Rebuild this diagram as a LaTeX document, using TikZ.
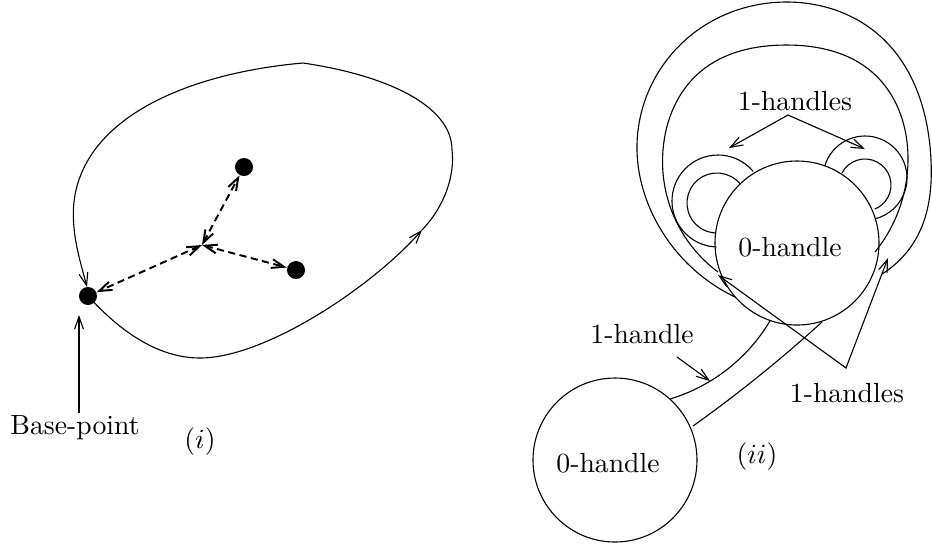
\documentclass[tikz,border=0pt]{standalone}
\usetikzlibrary{arrows.meta,hobby}
\begin{document}
\begin{tikzpicture}[x=0.361pt, y=-0.361pt,
  dot/.style={circle, fill, inner sep=0pt, minimum size=6.5pt},
  tip/.style={-{Straight Barb[length=4.5pt,width=3.2pt]}},
  twotips/.style={{Straight Barb[length=4.5pt,width=3.2pt]}-{Straight Barb[length=4.5pt,width=3.2pt]}},
  dashlink/.style={twotips, line width=0.7pt, dash pattern=on 2.6pt off 1.6pt}]
  \useasboundingbox (0,0) rectangle (932,546);

  % (i)
  \node[dot] (base) at (88,296) {};
  \node[dot] (ptA) at (244,167) {};
  \node[dot] (ptB) at (296,270) {};
  \coordinate (mid) at (202,245);
  \coordinate (turn) at (422,230);
  \coordinate (crest) at (303,63);
  \draw[tip] (base.center) .. controls (110,320) and (150,358) .. (200,358)
    .. controls (265,358) and (372,287) .. (turn);
  \draw[tip] (turn) .. controls (445,206) and (455,175) .. (452,150)
    .. controls (452,105) and (385,75) .. (crest)
    .. controls (200,72) and (95,110) .. (76,190)
    .. controls (68,225) and (80,260) .. (87,287);
  \draw[dashlink] (mid) -- (base);
  \draw[dashlink] (mid) -- (ptA);
  \draw[dashlink] (mid) -- (ptB);

  \node (bptxt) at (75,428) {Base-point};
  \coordinate (bpfoot) at (79,413);
  \coordinate (bptip) at (79,315);
  \draw[tip] (bpfoot) -- (bptip);
  \node (fig1) at (200,442) {$(i)$};

  % (ii)
  \coordinate (top0) at (797,243);
  \coordinate (low0) at (615,460);
  \draw (top0) circle (82);
  \draw (low0) circle (82);
  \node (toptxt) at (790,247) {0-handle};
  \node (lowtxt) at (608,463) {0-handle};

  \begin{scope}[use Hobby shortcut]
    % band between the 0-handles
    \draw (670,399) .. (712,380) .. (770,321);
    \draw (693,426) .. (740,391) .. (822,322);
    % big band round the top 0-handle
    \draw (735,297) .. (652,213) .. (637,145) .. (690,36) .. (787,2) .. (880,36) .. (931,160) .. (918,235) .. (882,274);
    \draw (718,272) .. (668,200) .. (663,150) .. (700,72) .. (786,45) .. (872,72) .. (908,160) .. (875,252);
  \end{scope}

  % small bands
  \draw (718,201) ++(-40:46) arc (-40:-268:46);
  \draw (717,203) ++(-39:30) arc (-39:-268:30);
  \draw (865,178) ++(-163:42) arc (-163:76:42);
  \draw (865,185) ++(-152:26) arc (-152:68:26);

  % labels
  \node (hup) at (795,101) {1-handles};
  \coordinate (vup) at (788,115);
  \coordinate (upL) at (729,148);
  \coordinate (upR) at (865,149);
  \draw[twotips] (upL) -- (vup) -- (upR);

  \node (hdown) at (847,393) {1-handles};
  \coordinate (vdown) at (846,368);
  \coordinate (downL) at (718,275);
  \coordinate (downR) at (888,258);
  \draw[twotips] (downL) -- (vdown) -- (downR);

  \node (hone) at (642,334) {1-handle};
  \coordinate (onefoot) at (677,357);
  \coordinate (onetip) at (710,381);
  \draw[tip] (onefoot) -- (onetip);

  \node (fig2) at (757,457) {$(ii)$};
\end{tikzpicture}
\end{document}
